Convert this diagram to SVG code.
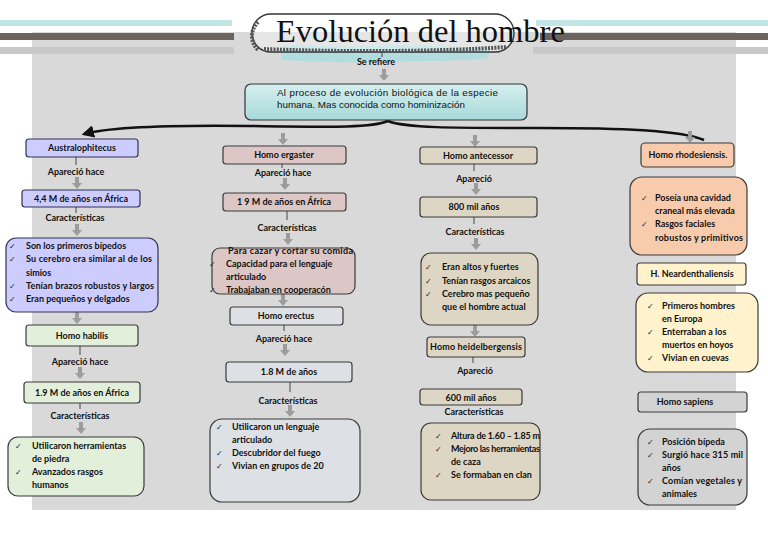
<svg xmlns="http://www.w3.org/2000/svg" width="768" height="543" viewBox="0 0 768 543">
<defs>
<style>
.t{font-family:Lato,"Liberation Sans",sans-serif;font-size:9px;font-weight:bold;fill:#111}
.c{text-anchor:middle}
.ck{font-family:"DejaVu Sans",sans-serif;font-size:8px;fill:#222}
.lav{fill:#ccccff;stroke:#333355;stroke-width:1.2}
.grn{fill:#e2efda;stroke:#3a3a3a;stroke-width:1.2}
.pnk{fill:#dcc6c6;stroke:#3a3a3a;stroke-width:1.2}
.gry{fill:#dde1e6;stroke:#3a3a3a;stroke-width:1.2}
.tan{fill:#ddd6c4;stroke:#3a3a3a;stroke-width:1.2}
.pch{fill:#f8cbad;stroke:#3a3a3a;stroke-width:1.2}
.crm{fill:#fff2cc;stroke:#3a3a3a;stroke-width:1.2}
.sap{fill:#d3d3d3;stroke:#3a3a3a;stroke-width:1.2}
.stem{stroke:#444;stroke-width:1}
.brace{fill:none;stroke:#111;stroke-width:2.5}
</style>
<linearGradient id="tg" x1="0" y1="0" x2="0" y2="1">
<stop offset="0" stop-color="#d6efef"/>
<stop offset="1" stop-color="#a7d9d9"/>
</linearGradient>
<path id="ga" d="M-2,-6 L2,-6 L2,0 L5,0 L0,6 L-5,0 L-2,0 Z" fill="#9c9c9c"/>
<marker id="ah" viewBox="0 0 10 10" refX="8" refY="5" markerWidth="5" markerHeight="5" orient="auto">
<path d="M0,0 L10,5 L0,10 Z" fill="#111"/>
</marker>
</defs>
<rect width="768" height="543" fill="#fff"/>
<rect x="32" y="32" width="704" height="478" fill="#d9d9d9"/>
<!-- stripes -->
<rect x="0" y="20" width="232" height="6" fill="#c2e6e6"/>
<rect x="536" y="20" width="232" height="6" fill="#c2e6e6"/>
<rect x="0" y="33" width="234" height="7" fill="#6b635d"/>
<rect x="540" y="33" width="228" height="7" fill="#6b635d"/>
<rect x="0" y="47" width="234" height="7" fill="#c8c8c8"/>
<rect x="533" y="47" width="235" height="7" fill="#c8c8c8"/>
<!-- title -->
<g id="title">
<path d="M280,47 C300,44 340,48 380,46 C420,44 460,48 490,47 L488,58 C460,62 420,60 380,62 C340,63 300,61 282,60 Z" fill="#a9dde0" opacity="0.85"/>
<rect x="252" y="14" width="262" height="38" rx="19" fill="#fff" fill-opacity="0.35" stroke="#333" stroke-width="1.4"/>
<path d="M264,49 C330,52 440,52 506,47" fill="none" stroke="#555" stroke-width="4" stroke-dasharray="2 1.2"/>
<path d="M258,22 C250,30 250,42 258,50" fill="none" stroke="#555" stroke-width="4" stroke-dasharray="2 1.2"/>
<text x="276" y="42" font-family="'Liberation Serif',serif" font-size="32.5" fill="#111">Evolución del hombre</text>
<text x="376" y="65" class="t c" font-size="7.5">Se refiere</text>
<line x1="382" y1="52" x2="382" y2="57" class="stem"/>
<use href="#ga" x="384" y="75"/>
</g>
<g id="root">
<rect x="245" y="84" width="282" height="36" rx="6" fill="url(#tg)" stroke="#333" stroke-width="1.2"/>
<text x="277" y="96" font-family="'Liberation Sans',sans-serif" font-size="9.8" fill="#111" textLength="221" lengthAdjust="spacing">Al proceso de evolución biológica de la especie</text>
<text x="277" y="108" font-family="'Liberation Sans',sans-serif" font-size="9.8" fill="#111">humana. Mas conocida como hominización</text>
</g>
<g id="connectors">
<path class="brace" d="M388,121 C372,128 330,127 250,126 C170,125 110,127 84,134" marker-end="url(#ah)"/>
<path class="brace" d="M388,121 C405,128 450,128 540,128 C620,128 680,130 704,140"/>
<use href="#ga" x="283" y="139"/>
<use href="#ga" x="475" y="141"/>
<use href="#ga" x="690" y="137"/>
<line x1="76" y1="157" x2="76" y2="165" class="stem"/><use href="#ga" x="77" y="183"/>
<line x1="76" y1="207" x2="76" y2="213" class="stem"/><use href="#ga" x="77" y="230"/>
<use href="#ga" x="77" y="318"/>
<line x1="80" y1="346" x2="80" y2="355" class="stem"/><use href="#ga" x="80" y="373"/>
<line x1="80" y1="403" x2="80" y2="409" class="stem"/><use href="#ga" x="81" y="428"/>
<line x1="282" y1="164" x2="282" y2="168" class="stem"/><use href="#ga" x="285" y="184"/>
<line x1="287" y1="211" x2="287" y2="220" class="stem"/><use href="#ga" x="288" y="239"/>
<use href="#ga" x="283" y="300"/>
<line x1="284" y1="325" x2="284" y2="331" class="stem"/><use href="#ga" x="285" y="350"/>
<line x1="290" y1="382" x2="290" y2="392" class="stem"/><use href="#ga" x="290" y="411"/>
<line x1="474" y1="164" x2="474" y2="171" class="stem"/><use href="#ga" x="476" y="189"/>
<line x1="474" y1="217" x2="474" y2="224" class="stem"/><use href="#ga" x="476" y="244"/>
<use href="#ga" x="475" y="331"/>
<line x1="473" y1="357" x2="473" y2="363" class="stem"/>
</g>
<!-- Column 1 -->
<g id="n-australo"><rect x="26" y="139" width="112" height="18" rx="3" class="lav"/><text x="82" y="151" class="t c">Australophitecus</text></g>
<text x="76" y="175" class="t c">Apareció hace</text>
<g id="n-44"><rect x="22" y="190" width="118" height="17" rx="3" class="lav"/><text x="81" y="201.5" class="t c">4,4 M de años en África</text></g>
<text x="75" y="221" class="t c">Características</text>
<g id="n-australo-car"><rect x="6" y="238" width="152" height="74" rx="10" class="lav"/>
<text x="9" y="249" class="ck">✓</text><text x="26" y="249" class="t">Son los primeros bípedos</text>
<text x="9" y="262" class="ck">✓</text><text x="26" y="262" class="t" textLength="126">Su cerebro era similar al de los</text>
<text x="26" y="276" class="t">simios</text>
<text x="9" y="289" class="ck">✓</text><text x="26" y="289" class="t" textLength="128">Tenían brazos robustos y largos</text>
<text x="9" y="302" class="ck">✓</text><text x="26" y="302" class="t">Eran pequeños y delgados</text></g>
<g id="n-habilis"><rect x="26" y="325" width="112" height="21" rx="3" class="grn"/><text x="82" y="339" class="t c">Homo habilis</text></g>
<text x="80" y="365" class="t c">Apareció hace</text>
<g id="n-19a"><rect x="24" y="382" width="116" height="21" rx="3" class="grn"/><text x="82" y="396" class="t c">1.9 M de años en África</text></g>
<text x="80" y="419" class="t c">Características</text>
<g id="n-habilis-car"><rect x="8" y="437" width="136" height="59" rx="10" class="grn"/>
<text x="15" y="449" class="ck">✓</text><text x="32" y="449" class="t">Utilicaron herramientas</text>
<text x="32" y="462" class="t">de piedra</text>
<text x="15" y="475" class="ck">✓</text><text x="32" y="475" class="t">Avanzados rasgos</text>
<text x="32" y="488" class="t">humanos</text></g>
<!-- Column 2 -->
<g id="n-ergaster"><rect x="223" y="146" width="123" height="18" rx="3" class="pnk"/><text x="284" y="158" class="t c">Homo ergaster</text></g>
<text x="283" y="176" class="t c">Apareció hace</text>
<g id="n-19b"><rect x="223" y="193" width="123" height="18" rx="3" class="pnk"/><text x="284" y="205" class="t c">1 9 M de años en África</text></g>
<text x="287" y="231" class="t c">Características</text>
<g id="n-ergaster-car"><rect x="212" y="248" width="143" height="46" rx="8" class="pnk"/>
<text x="228" y="254" class="t" textLength="125">Para cazar y cortar su comida</text>
<text x="209" y="267" class="ck">✓</text><text x="226" y="267" class="t">Capacidad para el lenguaje</text>
<text x="226" y="280" class="t">articulado</text>
<text x="209" y="293" class="ck">✓</text><text x="226" y="293" class="t">Trabajaban en cooperacón</text></g>
<g id="n-erectus"><rect x="230" y="307" width="113" height="18" rx="3" class="gry"/><text x="286" y="319" class="t c">Homo erectus</text></g>
<text x="284" y="342" class="t c">Apareció hace</text>
<g id="n-18"><rect x="226" y="362" width="126" height="20" rx="3" class="gry"/><text x="289" y="375" class="t c">1.8 M de años</text></g>
<text x="288" y="404" class="t c">Características</text>
<g id="n-erectus-car"><rect x="210" y="419" width="150" height="83" rx="12" class="gry"/>
<text x="216" y="430" class="ck">✓</text><text x="232" y="430" class="t">Utilicaron un lenguaje</text>
<text x="232" y="443" class="t">articulado</text>
<text x="216" y="456" class="ck">✓</text><text x="232" y="456" class="t">Descubridor del fuego</text>
<text x="216" y="469" class="ck">✓</text><text x="232" y="469" class="t">Vivian en grupos de 20</text></g>
<!-- Column 3 -->
<g id="n-antecessor"><rect x="420" y="147" width="117" height="17" rx="3" class="tan"/><text x="478" y="158.5" class="t c">Homo antecessor</text></g>
<text x="474" y="182" class="t c">Apareció</text>
<g id="n-800"><rect x="420" y="197" width="117" height="20" rx="3" class="tan"/><text x="474" y="210" class="t c">800 mil años</text></g>
<text x="475" y="235" class="t c">Características</text>
<g id="n-antecessor-car"><rect x="421" y="253" width="117" height="72" rx="10" class="tan"/>
<text x="425" y="270" class="ck">✓</text><text x="442" y="270" class="t">Eran altos y fuertes</text>
<text x="425" y="284" class="ck">✓</text><text x="442" y="284" class="t">Tenían rasgos arcaicos</text>
<text x="425" y="297" class="ck">✓</text><text x="442" y="297" class="t">Cerebro mas pequeño</text>
<text x="442" y="310" class="t">que el hombre actual</text></g>
<g id="n-heidel"><rect x="427" y="337" width="98" height="20" rx="3" class="tan"/><text x="476" y="350" class="t c" textLength="92">Homo heidelbergensis</text></g>
<text x="475" y="374" class="t c">Apareció</text>
<g id="n-600"><rect x="420" y="389" width="102" height="16" rx="3" class="tan"/><text x="471" y="400.5" class="t c">600 mil años</text></g>
<text x="474" y="415" class="t c">Características</text>
<g id="n-heidel-car"><rect x="421" y="423" width="119" height="77" rx="10" class="tan"/>
<text x="435" y="439" class="ck">✓</text><text x="451" y="439" class="t" textLength="89">Altura de 1.60 – 1.85 m</text>
<text x="435" y="452" class="ck">✓</text><text x="451" y="452" class="t" textLength="89">Mejoro las herramientas</text>
<text x="451" y="465" class="t">de caza</text>
<text x="435" y="478" class="ck">✓</text><text x="451" y="478" class="t">Se formaban en clan</text></g>
<!-- Column 4 -->
<g id="n-rhodes"><rect x="641" y="143" width="93" height="24" rx="4" class="pch"/><text x="688" y="158" class="t c">Homo rhodesiensis.</text></g>
<g id="n-rhodes-car"><rect x="630" y="177" width="117" height="78" rx="12" class="pch"/>
<text x="641" y="201" class="ck">✓</text><text x="655" y="201" class="t">Poseía una cavidad</text>
<text x="655" y="214" class="t">craneal más elevada</text>
<text x="641" y="227" class="ck">✓</text><text x="655" y="227" class="t">Rasgos faciales</text>
<text x="655" y="241" class="t" textLength="88">robustos y primitivos</text></g>
<g id="n-neander"><rect x="637" y="263" width="109" height="22" rx="3" class="crm"/><text x="692" y="277" class="t c">H. Neardenthaliensis</text></g>
<g id="n-neander-car"><rect x="636" y="293" width="122" height="79" rx="12" class="crm"/>
<text x="647" y="309" class="ck">✓</text><text x="662" y="309" class="t">Primeros hombres</text>
<text x="662" y="322" class="t">en Europa</text>
<text x="647" y="335" class="ck">✓</text><text x="662" y="335" class="t">Enterraban a los</text>
<text x="662" y="348" class="t">muertos en hoyos</text>
<text x="647" y="361" class="ck">✓</text><text x="662" y="361" class="t">Vivian en cuevas</text></g>
<g id="n-sapiens"><rect x="638" y="392" width="109" height="20" rx="3" class="sap"/><text x="685" y="405" class="t c">Homo sapiens</text></g>
<g id="n-sapiens-car"><rect x="638" y="429" width="109" height="76" rx="12" class="sap"/>
<text x="647" y="445" class="ck">✓</text><text x="662" y="445" class="t">Posición bípeda</text>
<text x="647" y="458" class="ck">✓</text><text x="662" y="458" class="t" textLength="81">Surgió hace 315 mil</text>
<text x="662" y="471" class="t">años</text>
<text x="647" y="484" class="ck">✓</text><text x="662" y="484" class="t" textLength="80">Comían vegetales y</text>
<text x="662" y="497" class="t">animales</text></g>
</svg>
